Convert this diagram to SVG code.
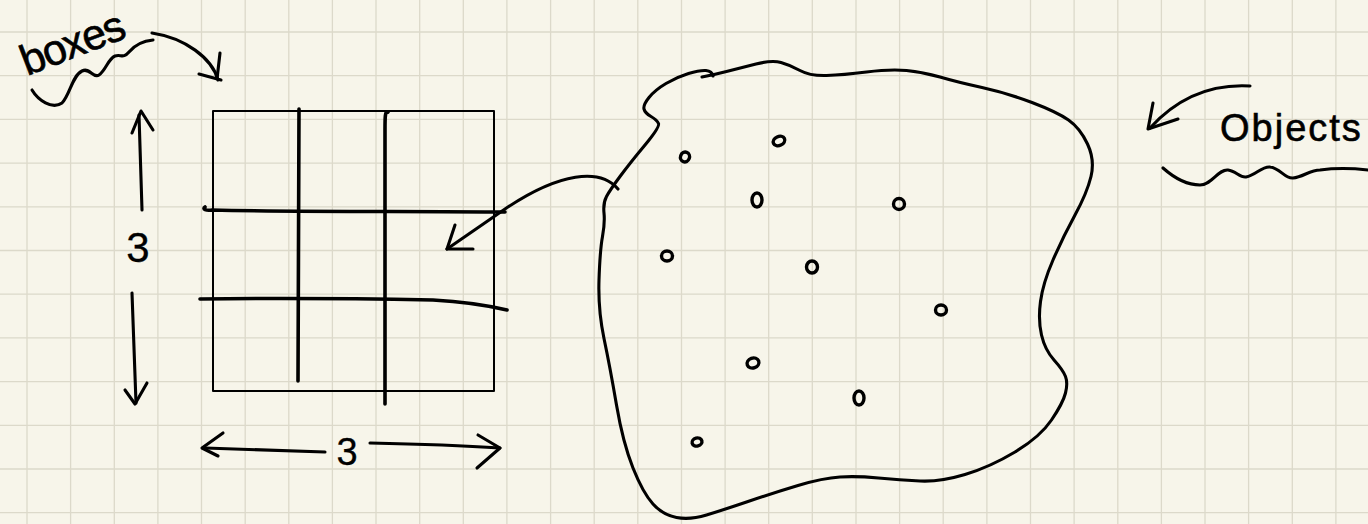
<svg xmlns="http://www.w3.org/2000/svg" width="1368" height="524" viewBox="0 0 1368 524">
<style>
.grid{stroke:#dcd9ca;stroke-width:1.3;fill:none}
.ink{stroke:#000;fill:none;stroke-linecap:round;stroke-linejoin:round}
.thin{stroke-width:2}
.med{stroke-width:3.1}
.thick{stroke-width:3.6}
.dot{stroke-width:3.4}
.hand{font-family:"Liberation Sans","Open Sans",sans-serif;fill:#000;stroke:#000;stroke-width:0.6}
</style>
<rect width="1368" height="524" fill="#f7f5ea"/>
<path class="grid" d="M27,0V524M70.6,0V524M114.3,0V524M157.9,0V524M201.5,0V524M245.2,0V524M288.8,0V524M332.4,0V524M376,0V524M419.7,0V524M463.3,0V524M506.9,0V524M550.6,0V524M594.2,0V524M637.8,0V524M681.5,0V524M725.1,0V524M768.7,0V524M812.3,0V524M856,0V524M899.6,0V524M943.2,0V524M986.9,0V524M1030.5,0V524M1074.1,0V524M1117.8,0V524M1161.4,0V524M1205,0V524M1248.6,0V524M1292.3,0V524M1335.9,0V524M0,32H1368M0,75.7H1368M0,119.4H1368M0,163.1H1368M0,206.8H1368M0,250.5H1368M0,294.2H1368M0,337.9H1368M0,381.6H1368M0,425.3H1368M0,469H1368M0,512.7H1368"/>

<g id="boxes-label">
<text class="hand" x="27" y="76" font-size="43" letter-spacing="-1.5" transform="rotate(-21 27 76)">boxes</text>
<path class="ink med" d="M32,90 C38,100 52,110 62,103 C70,95 72,76 82,71 C90,67 93,79 99,75 C106,70 108,59 115,56 C121,54 123,59 129,52 C134,46 142,41 153,40"/>
</g>

<g id="grid-3x3">
<rect class="ink thin" x="213" y="111" width="281" height="280"/>
<path class="ink thick" d="M299,109 L298,381"/>
<path class="ink thick" d="M388,112 C385,110 385,118 385,130 L385,404"/>
<path class="ink thick" d="M205,207 C202,209 206,211 212,210 C300,212 420,211 505,212"/>
<path class="ink thick" d="M200,299 C280,298 380,299 433,300 C470,302 490,306 507,310"/>
</g>

<g id="height-label">
<text class="hand" x="138" y="262" font-size="42" text-anchor="middle" style="stroke-width:0.3">3</text>
</g>
<g id="width-label">
<text class="hand" x="347" y="465" font-size="38" text-anchor="middle" style="stroke-width:0.3">3</text>
</g>

<g id="objects-region">
<path class="ink med" d="M702,77 Q713,75 726.5,71.5 Q740,68 756,64 Q772,60 781,62.5 Q790,65 800,70.5 Q810,76 826.5,75.5 Q843,75 866.5,72 Q890,69 906.5,70.5 Q923,72 940,77 Q957,82 982,87.5 Q1007,93 1032,102.5 Q1057,112 1068.5,120 Q1080,128 1087.5,144 Q1095,160 1091,176.5 Q1087,193 1075,215 Q1063,237 1053,260 Q1043,283 1040.5,301.5 Q1038,320 1041.5,335 Q1045,350 1054,360 Q1063,370 1065.5,376.5 Q1068,383 1065.5,393 Q1063,403 1051.5,420 Q1040,437 1015,452 Q990,467 965,474.5 Q940,482 920,481 Q900,480 878.5,478 Q857,476 840,477 Q823,478 798,485.5 Q773,493 748,501.5 Q723,510 706.5,515 Q690,520 676.5,517.5 Q663,515 653,504 Q643,493 633,468 Q623,443 616.5,405 Q610,367 604,338.5 Q598,310 599,280 Q600,250 602.5,236.5 Q605,223 604,213 Q603,203 606.5,196.5 Q610,190 620,176.5 Q630,163 645,145 Q660,127 658.5,123.5 Q657,120 651,116.5 Q645,113 644,109 Q643,105 649,97.5 Q655,90 666,83.5 Q677,77 688.5,73.5 Q700,70 706,70.5 Q712,71 713,76"/>
<g class="ink dot">
<ellipse cx="685" cy="157" rx="4.5" ry="5" transform="rotate(20 685 157)"/>
<ellipse cx="779" cy="141" rx="6" ry="4.5" transform="rotate(-25 779 141)"/>
<ellipse cx="757" cy="200" rx="5" ry="7"/>
<ellipse cx="899" cy="204" rx="5.5" ry="5.5"/>
<ellipse cx="667" cy="256" rx="5.5" ry="5"/>
<ellipse cx="812" cy="267" rx="5.5" ry="6"/>
<ellipse cx="941" cy="310" rx="5.5" ry="5"/>
<ellipse cx="753" cy="363" rx="6" ry="5" transform="rotate(-20 753 363)"/>
<ellipse cx="859" cy="398" rx="5" ry="7"/>
<ellipse cx="697" cy="442" rx="5" ry="4" transform="rotate(-15 697 442)"/>
</g>
</g>

<g id="objects-label">
<text class="hand" x="1220" y="141" font-size="38" letter-spacing="2">Objects</text>
<path class="ink med" d="M1163,168 C1172,176 1186,185 1200,185 C1212,185 1218,169 1228,170 C1236,171 1240,178 1246,177 C1256,175 1262,166 1270,167 C1280,168 1285,179 1293,178 C1303,177 1310,170 1320,170 C1335,168 1350,168 1368,170"/>
</g>

<g id="connectors">
<path class="ink med" d="M152,33 C185,38 212,58 218,80"/>
<path class="ink med" d="M220,53 L217,79 M199,74 L221,80"/>
<path class="ink med" d="M618,189 C600,168 560,172 505,209 L447,249"/>
<path class="ink med" d="M455,225 L447,249 L473,249"/>
<path class="ink med" d="M1250,86 C1215,84 1180,95 1150,128"/>
<path class="ink med" d="M1153,103 L1148,129 L1178,119"/>
<path class="ink med" d="M142,210 L139,115"/>
<path class="ink med" d="M132,133 L141,111 L153,130"/>
<path class="ink med" d="M132,293 L136,403"/>
<path class="ink med" d="M125,390 L135,404 L147,383"/>
<path class="ink med" d="M325,452 L205,448"/>
<path class="ink med" d="M223,433 L202,448 L218,456"/>
<path class="ink med" d="M370,443 C420,444 470,446 500,448"/>
<path class="ink med" d="M478,435 L500,448 L477,468"/>
</g>
</svg>
